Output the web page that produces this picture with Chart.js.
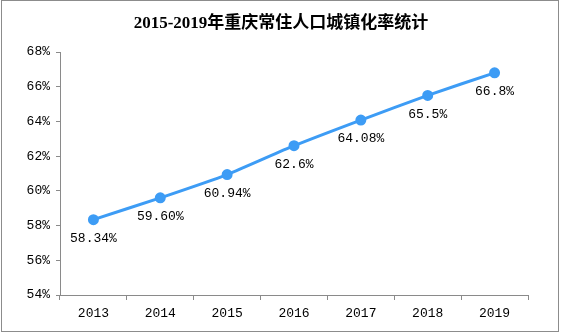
<!DOCTYPE html>
<html lang="zh">
<head>
<meta charset="UTF-8">
<title>2015-2019年重庆常住人口城镇化率统计</title>
<script src="https://cdn.jsdelivr.net/npm/chart.js@4/dist/chart.umd.min.js"></script>
<style>
  html, body { margin: 0; padding: 0; background: #fff; }
  #wrap { width: 561px; height: 333px; }
</style>
</head>
<body>
<div id="wrap"><canvas id="chart" width="561" height="333"></canvas></div>
<script>
const years = ['2013', '2014', '2015', '2016', '2017', '2018', '2019'];
const rates = [58.34, 59.60, 60.94, 62.6, 64.08, 65.5, 66.8];
const rateLabels = ['58.34%', '59.60%', '60.94%', '62.6%', '64.08%', '65.5%', '66.8%'];
const title = '2015-2019年重庆常住人口城镇化率统计';

const axisColor = '#8a8a8a';
const monoFont = '"Liberation Mono", "DejaVu Sans Mono", monospace';

const frame = {
  id: 'frame',
  beforeDraw(chart) {
    const ctx = chart.ctx;
    ctx.save();
    ctx.fillStyle = '#fff';
    ctx.fillRect(0, 0, chart.width, chart.height);
    ctx.strokeStyle = '#8c8c8c';
    ctx.lineWidth = 1;
    ctx.strokeRect(1.5, 0.5, 557, 331);
    ctx.font = 'bold 17px "Liberation Serif", "Noto Sans CJK SC", serif';
    ctx.fillStyle = '#000';
    ctx.textAlign = 'center';
    ctx.textBaseline = 'middle';
    ctx.fillText(title, 281, 24);
    ctx.restore();
  }
};

const pointLabels = {
  id: 'pointLabels',
  afterDatasetsDraw(chart) {
    const ctx = chart.ctx;
    const meta = chart.getDatasetMeta(0);
    ctx.save();
    ctx.font = '13px ' + monoFont;
    ctx.fillStyle = '#000';
    ctx.textAlign = 'center';
    ctx.textBaseline = 'middle';
    meta.data.forEach((pt, i) => {
      ctx.fillText(rateLabels[i], pt.x, pt.y + 19);
    });
    ctx.restore();
  }
};

new Chart(document.getElementById('chart'), {
  type: 'line',
  data: {
    labels: years,
    datasets: [{
      data: rates,
      borderColor: '#3d9cf5',
      backgroundColor: '#3d9cf5',
      borderWidth: 3,
      pointRadius: 4,
      pointHoverRadius: 4,
      tension: 0.2
    }]
  },
  options: {
    responsive: false,
    animation: false,
    layout: { padding: { left: 0, right: 33, top: 52, bottom: 0 } },
    plugins: { legend: { display: false }, tooltip: { enabled: false } },
    scales: {
      x: {
        offset: true,
        grid: { display: true, drawOnChartArea: false, color: axisColor, tickLength: 5, offset: true },
        border: { color: axisColor, width: 1 },
        ticks: { color: '#000', font: { family: monoFont, size: 13 }, padding: 6, maxRotation: 0 },
        afterFit(s) { s.height = 38; }
      },
      y: {
        min: 54,
        max: 68,
        ticks: { stepSize: 2, color: '#000', font: { family: monoFont, size: 13 }, padding: 6,
                 callback: v => v + '%' },
        grid: { display: true, drawOnChartArea: false, color: axisColor, tickLength: 4 },
        border: { color: axisColor, width: 1 },
        afterFit(s) { s.width = 60; }
      }
    }
  },
  plugins: [frame, pointLabels]
});
</script>
</body>
</html>
